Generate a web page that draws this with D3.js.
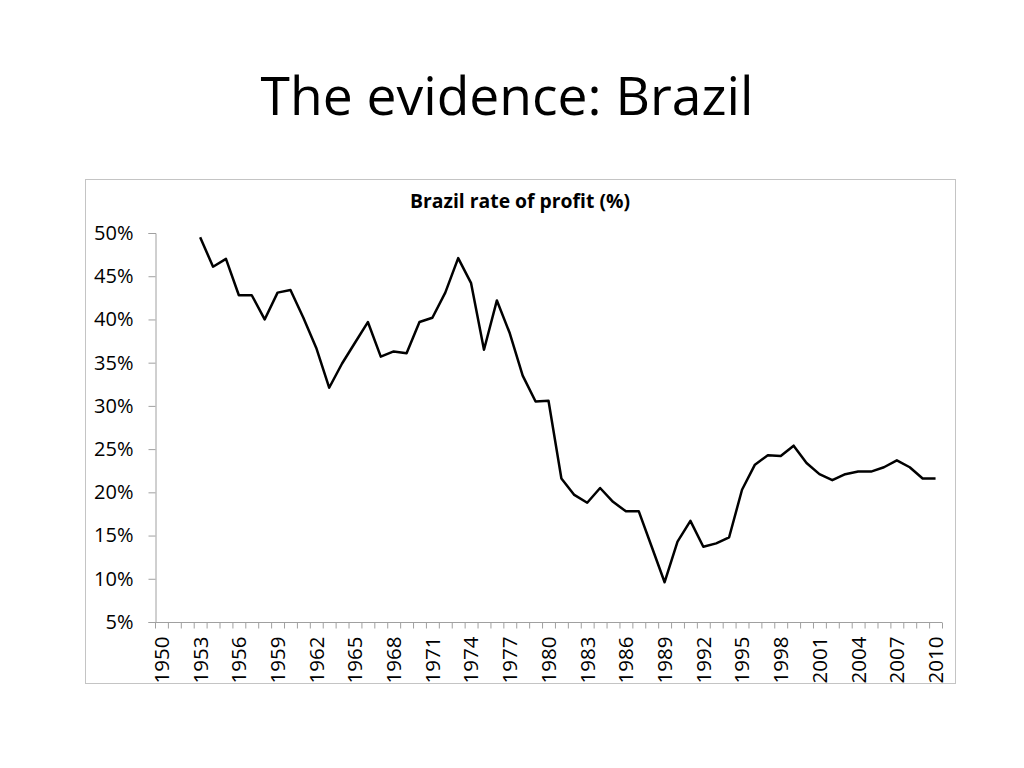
<!DOCTYPE html>
<html>
<head>
<meta charset="utf-8">
<title>The evidence: Brazil</title>
<script src="https://d3js.org/d3.v7.min.js"></script>
<style>
  body { margin: 0; background: #fff; }
  text { font-family: 'Open Sans', 'Lato', sans-serif; }
</style>
</head>
<body>
<div id="chart"></div>
<script>
// years on the category axis
const years = d3.range(1950, 2011)
// rate of profit, % (no data before 1953)
const profit = [null, null, null,
  49.5, 46.1, 47.0, 42.8, 42.8, 40.0, 43.1, 43.4, 40.2, 36.7,
  32.1, 34.9, 37.3, 39.7, 35.7, 36.3, 36.1, 39.7, 40.2, 43.1,
  47.1, 44.2, 36.5, 42.2, 38.4, 33.5, 30.5, 30.6, 21.6, 19.7,
  18.8, 20.5, 18.9, 17.8, 17.8, 13.7, 9.6, 14.3, 16.7, 13.7,
  14.1, 14.8, 20.3, 23.2, 24.3, 24.2, 25.4, 23.4, 22.1, 21.4,
  22.1, 22.4, 22.4, 22.9, 23.7, 22.9, 21.6, 21.6]
const yTicks = [5, 10, 15, 20, 25, 30, 35, 40, 45, 50]
const labelYears = years.filter(y => (y - 1950) % 3 === 0)

const slideTitle = 'The evidence: Brazil'
const chartTitle = 'Brazil rate of profit (%)'

const w = 1024
const h = 768

const svg = d3.select('#chart')
  .append('svg')
  .attr('width', w)
  .attr('height', h)

// fit a text element to a target width
function fitWidth(sel, target) {
  const len = sel.node().getComputedTextLength()
  const fs = parseFloat(sel.attr('font-size'))
  sel.attr('font-size', fs * target / len)
}

svg.append('text')
  .attr('x', 507)
  .attr('y', 115)
  .attr('text-anchor', 'middle')
  .attr('font-size', 50)
  .attr('fill', '#000')
  .text(slideTitle)
  .call(fitWidth, 493)

// chart frame
svg.append('rect')
  .attr('x', 85.5)
  .attr('y', 179.5)
  .attr('width', 870)
  .attr('height', 504)
  .attr('fill', '#fff')
  .attr('stroke', '#c4c4c4')

svg.append('text')
  .attr('x', 520)
  .attr('y', 208)
  .attr('text-anchor', 'middle')
  .attr('font-weight', 'bold')
  .attr('font-size', 16)
  .attr('fill', '#000')
  .text(chartTitle)
  .call(fitWidth, 220)

const x = d3.scaleBand()
  .domain(years)
  .range([155, 942])
  .padding(0)

const y = d3.scaleLinear()
  .domain([5, 50])
  .range([622, 233])

const axisColor = '#a0a0a0'

// y axis
const yAxis = d3.axisLeft(y)
  .tickValues(yTicks)
  .tickSize(7)
  .tickPadding(15)
  .tickFormat(d => d + '%')

const gy = svg.append('g')
  .attr('transform', 'translate(155.5,0)')
  .call(yAxis)
gy.select('.domain').attr('stroke', axisColor)
gy.selectAll('.tick line').attr('stroke', axisColor)
gy.selectAll('.tick text')
  .attr('font-size', 20)
  .attr('fill', '#000')
  .attr('font-family', "'Open Sans', sans-serif")

// x axis: ticks between categories
const gx = svg.append('g')
  .attr('transform', 'translate(0,622.5)')
gx.append('line')
  .attr('x1', x.range()[0])
  .attr('x2', x.range()[1])
  .attr('stroke', axisColor)
gx.selectAll('.tk')
  .data(years.concat([null]))
  .enter()
  .append('line')
  .attr('class', 'tk')
  .attr('x1', d => d === null ? x.range()[1] + 0.5 : x(d) + 0.5)
  .attr('x2', d => d === null ? x.range()[1] + 0.5 : x(d) + 0.5)
  .attr('y1', 0)
  .attr('y2', 6)
  .attr('stroke', axisColor)
gx.selectAll('.lbl')
  .data(labelYears)
  .enter()
  .append('text')
  .attr('class', 'lbl')
  .attr('transform', d => 'translate(' + (x(d) + x.bandwidth() / 2) + ',14) rotate(-90)')
  .attr('text-anchor', 'end')
  .attr('dy', '0.36em')
  .attr('font-size', 20.5)
  .attr('fill', '#000')
  .text(d => d)

// the line
const data = years.map((yr, i) => [yr, profit[i]])
const line = d3.line()
  .defined(d => d[1] !== null)
  .x(d => x(d[0]) + x.bandwidth() / 2)
  .y(d => y(d[1]))

svg.append('path')
  .datum(data)
  .attr('fill', 'none')
  .attr('stroke', '#000')
  .attr('stroke-width', 2.5)
  .attr('stroke-linejoin', 'round')
  .attr('d', line)
</script>
</body>
</html>
